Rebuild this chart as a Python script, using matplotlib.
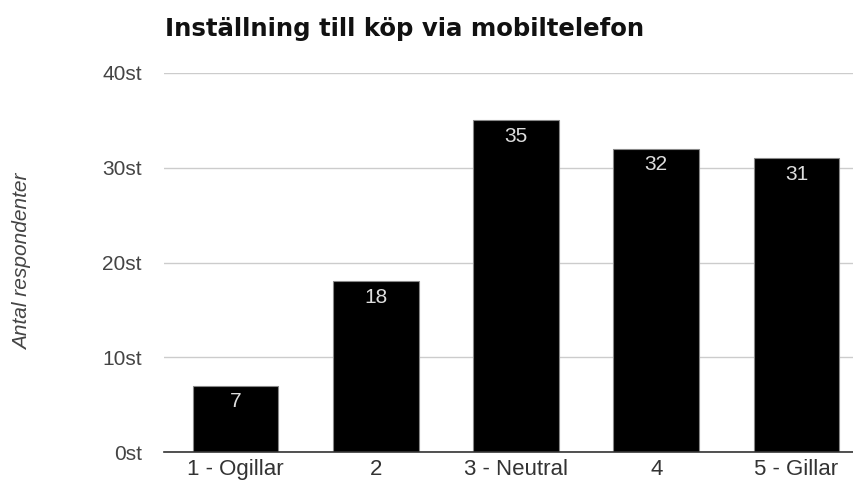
import matplotlib
matplotlib.use("Agg")
import matplotlib.pyplot as plt

categories = ["1 - Ogillar", "2", "3 - Neutral", "4", "5 - Gillar"]
values = [7, 18, 35, 32, 31]
yticks = [0, 10, 20, 30, 40]
ytick_labels = ["0st", "10st", "20st", "30st", "40st"]

plt.rcParams['font.family'] = ['Liberation Sans', 'DejaVu Sans']

fig = plt.figure(figsize=(8.54, 4.84), dpi=100)
ax = fig.add_axes([164/854, 1-452/484, 1-164/854, (452-73)/484])

x = list(range(len(categories)))
bars = ax.bar(x, values, width=0.61, color='black', edgecolor='#888888', linewidth=0.8, zorder=3)

for xi, v in zip(x, values):
    ax.annotate(str(v), (xi, v), xytext=(0, -4.5), textcoords='offset points',
                ha='center', va='top', color='#dddddd', fontsize=15, zorder=4)

ax.set_xlim(-0.51, 4.41)
ax.set_ylim(0, 40)
ax.set_yticks(yticks)
ax.set_yticklabels(ytick_labels, fontsize=15, color='#444444')
ax.set_xticks(x)
ax.set_xticklabels(categories, fontsize=16, color='#333333')
ax.tick_params(axis='both', length=0)
ax.tick_params(axis='y', pad=16)
ax.tick_params(axis='x', pad=5)

ax.grid(axis='y', color='#cccccc', linewidth=1, zorder=0)
for s in ['top', 'right', 'left']:
    ax.spines[s].set_visible(False)
ax.spines['bottom'].set_color('#333333')
ax.spines['bottom'].set_linewidth(1.2)
ax.spines['bottom'].set_zorder(5)

fig.text(23/854, 1-262/484, "Antal respondenter", rotation=90, ha='center', va='center',
         fontsize=15, style='italic', color='#444444')
fig.text(165/854, 1-29/484, "Inställning till köp via mobiltelefon", ha='left', va='center',
         fontsize=17.6, fontweight='bold', color='#111111', family=['DejaVu Sans'])

fig.savefig("out.png", dpi=100)
